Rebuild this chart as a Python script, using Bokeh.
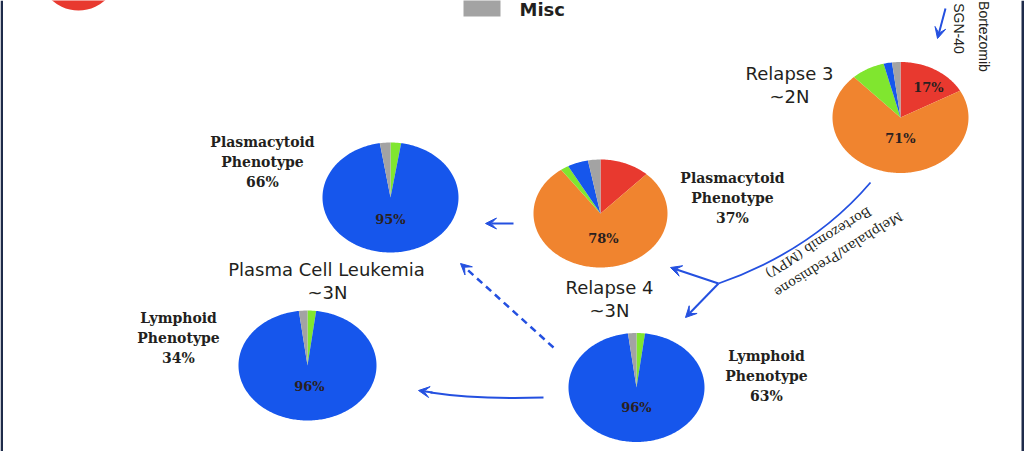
import numpy as np
from bokeh.plotting import figure
from bokeh.models import Range1d, Arrow, VeeHead
from bokeh.core.properties import value
from bokeh.embed import file_html
from bokeh.resources import INLINE

# ---------------- data ----------------
categories = ["Red", "Orange", "Green", "Blue", "Misc"]
colors = ["#E8392F", "#F0842F", "#80E62F", "#1656EC", "#A3A3A3"]

relapse3 = [17, 71, 8, 2, 2]
relapse4_plasmacytoid = [12, 78, 2, 5, 3]
pcl_plasmacytoid = [0, 0, 2.5, 95, 2.5]
pcl_lymphoid = [0, 0, 2, 96, 2]
relapse4_lymphoid = [0, 0, 2, 96, 2]

pct_labels = ["17%", "71%", "78%", "95%", "96%", "96%"]
stage_titles = ["Relapse 3", "~2N", "Plasma Cell Leukemia", "~3N", "Relapse 4", "~3N"]
phenotype_labels = [["Plasmacytoid", "Phenotype", "66%"],
                    ["Plasmacytoid", "Phenotype", "37%"],
                    ["Lymphoid", "Phenotype", "34%"],
                    ["Lymphoid", "Phenotype", "63%"]]
treatment_lines = ["Melphalan/Prednisone", "Bortezomib (MPV)"]
top_treatment = ["Bortezomib", "SGN-40"]
legend_label = "Misc"

# ---------------- figure ----------------
W, H = 1024, 451
p = figure(width=W, height=H, x_range=Range1d(0, W), y_range=Range1d(0, H),
           output_backend="svg", toolbar_location=None, min_border=0)
p.axis.visible = False
p.grid.visible = False
p.outline_line_color = None
p.background_fill_color = "white"
p.border_fill_color = "white"

def Y(v):
    return H - v

BLUE = "#2450E0"
TXT = "#231F20"

# slide frame edges
p.quad(left=[0, 1021], right=[2.5, 1024], bottom=[0, 0], top=[H, H],
       fill_color="#1E2B4A", line_color=None)

# partial red pie at top-left
p.ellipse(x=[78], y=[Y(-40)], width=[88], height=[100], fill_color=colors[0], line_color=None)

# legend fragment
p.quad(left=[463], right=[500], bottom=[Y(16)], top=[Y(-6)], fill_color=colors[4], line_color=None)
p.text(x=[519], y=[Y(9)], text=[legend_label], text_font=value("DejaVu Sans"), text_font_style="bold",
       text_font_size="18px", text_align="left", text_baseline="middle", text_color=TXT)

def pie(vals, cx, cy, rx, ry):
    tot = float(sum(vals))
    xs, ys, cs = [], [], []
    cum = 0.0
    for v, c in zip(vals, colors):
        if v <= 0:
            continue
        a0 = np.pi / 2 - 2 * np.pi * cum / tot
        cum += v
        a1 = np.pi / 2 - 2 * np.pi * cum / tot
        n = max(3, int(abs(a1 - a0) / 0.02))
        th = np.linspace(a0, a1, n)
        xs.append([cx] + list(cx + rx * np.cos(th)))
        ys.append([Y(cy)] + list(Y(cy) + ry * np.sin(th)))
        cs.append(c)
    p.patches(xs=xs, ys=ys, fill_color=cs, line_color=None)

pie(relapse3, 900, 117, 68, 55.5)
pie(relapse4_plasmacytoid, 600, 213, 67, 54)
pie(pcl_plasmacytoid, 390, 197, 68, 55)
pie(pcl_lymphoid, 307, 365, 69, 55)
pie(relapse4_lymphoid, 636, 387, 68, 54.5)

# percentage labels in pies
p.text(x=[928, 900, 603, 390, 309, 636],
       y=[Y(87), Y(138), Y(238), Y(219), Y(386), Y(407)],
       text=pct_labels, text_font=value("DejaVu Serif"), text_font_style="bold",
       text_font_size="13px", text_align="center", text_baseline="middle", text_color="#2A2020")

# stage titles
p.text(x=[789, 789, 326, 327, 609, 609],
       y=[Y(73), Y(96), Y(269), Y(292), Y(287), Y(310)],
       text=stage_titles, text_font=value("DejaVu Sans"), text_font_size="18px",
       text_align="center", text_baseline="middle", text_color=TXT)

# phenotype labels
ph_pos = [(262, 141), (732, 177), (178, 317), (766, 355)]
for (x0, y0), lines in zip(ph_pos, phenotype_labels):
    p.text(x=[x0] * 3, y=[Y(y0), Y(y0 + 20), Y(y0 + 40)], text=lines,
           text_font=value("DejaVu Serif"), text_font_style="bold", text_font_size="14px",
           text_align="center", text_baseline="middle", text_color=TXT)

# top-right rotated treatment text + arrow
p.text(x=[983, 958], y=[Y(36), Y(28)], text=top_treatment, angle=-np.pi / 2,
       text_font=value("Liberation Sans"), text_font_size="14px",
       text_align="center", text_baseline="middle", text_color=TXT)

def arrow(x0, y0, x1, y1, dash="solid", lw=2):
    p.add_layout(Arrow(end=VeeHead(size=11, fill_color=BLUE, line_color=BLUE, line_width=1),
                       x_start=x0, y_start=Y(y0), x_end=x1, y_end=Y(y1),
                       line_color=BLUE, line_width=lw, line_dash=dash))

arrow(945, 8, 937, 38)

# MPV curve and branches
p.quadratic(x0=[870], y0=[Y(182)], x1=[718], y1=[Y(283)], cx=[812], cy=[Y(250)],
            line_color=BLUE, line_width=1.8)
arrow(718, 283, 670, 267)
arrow(718, 283, 685, 317)

ang = np.deg2rad(212)
p.text(x=[838, 818], y=[Y(254), Y(242)], text=treatment_lines, angle=ang,
       text_font=value("DejaVu Serif"), text_font_size="13px",
       text_align="center", text_baseline="middle", text_color=TXT)

# arrow from plasmacytoid relapse-4 to plasmacytoid PCL
arrow(513, 223, 485, 223)
# dashed arrow
arrow(553, 347, 460, 263, dash="7 5", lw=2.5)
# bottom curved arrow
p.quadratic(x0=[543], y0=[Y(397)], x1=[430], y1=[Y(392)], cx=[475], cy=[Y(399)],
            line_color=BLUE, line_width=2)
arrow(432, 392, 418, 390)

open("out.html", "w").write(file_html(p, INLINE))
